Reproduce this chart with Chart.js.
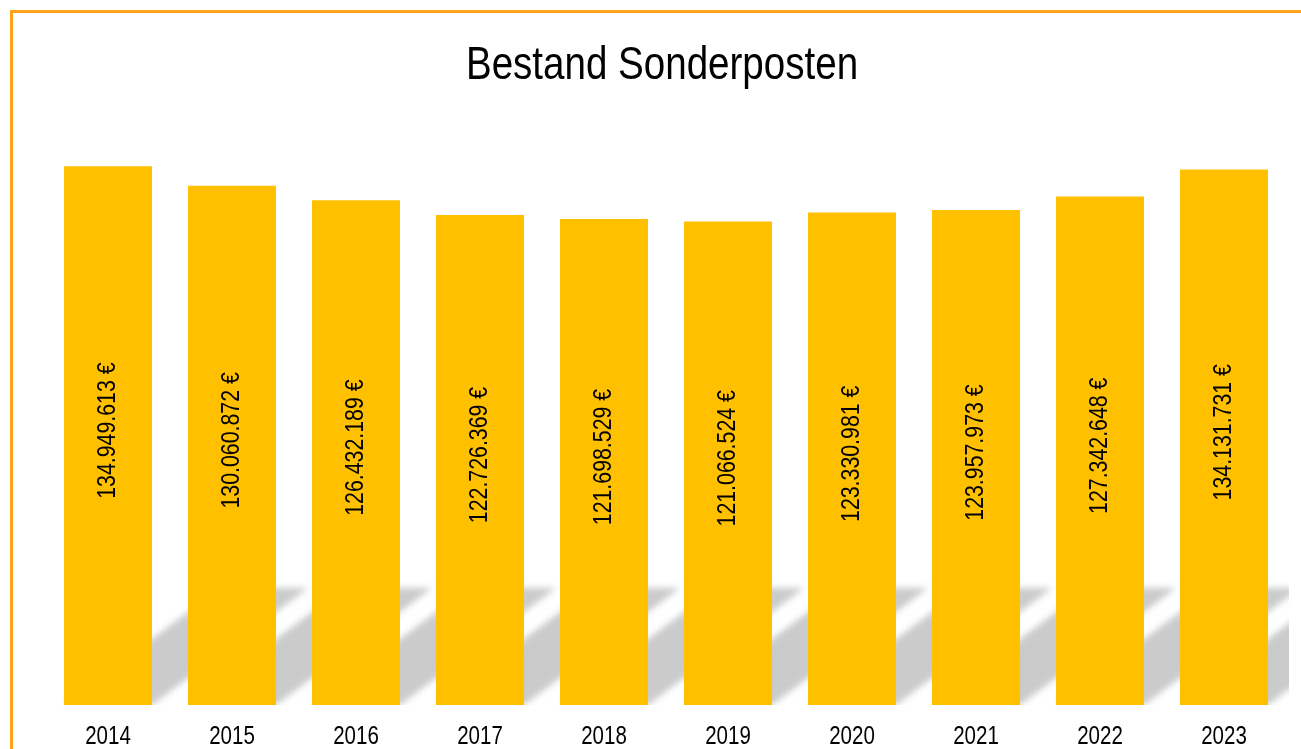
<!DOCTYPE html>
<html lang="de">
<head>
    <meta charset="UTF-8">
    <title>Bestand Sonderposten</title>
    <script src="https://cdn.jsdelivr.net/npm/chart.js"></script>
    <style>
        html, body { margin: 0; padding: 0; background: #fff; overflow: hidden; }
        #rahmen {
            position: absolute; left: 10px; top: 10px;
            width: 2000px; height: 2000px;
            border-top: 3px solid #FFA31A; border-left: 3px solid #FFA31A;
        }
        #diagramm { position: absolute; left: 0; top: 0; }
    </style>
</head>
<body>
    <div id="rahmen"></div>
    <canvas id="diagramm" width="1301" height="749"></canvas>

    <script>
        const titel = 'Bestand Sonderposten';
        const jahre = ['2014', '2015', '2016', '2017', '2018', '2019', '2020', '2021', '2022', '2023'];
        const bestand = [134949613, 130060872, 126432189, 122726369, 121698529, 121066524, 123330981, 123957973, 127342648, 134131731];

        // kein Arial Narrow vorhanden -> Liberation Sans schmal gestaucht
        const schrift = "'Liberation Sans', Arial, sans-serif";
        const stauchung = 0.82;

        function euro(wert) {
            return wert.toString().replace(/\B(?=(\d{3})+(?!\d))/g, '.') + ' €';
        }

        function schmalerText(ctx, text, x, y) {
            ctx.save();
            ctx.translate(x, y);
            ctx.scale(stauchung, 1);
            ctx.fillText(text, 0, 0);
            ctx.restore();
        }

        // Schräger Schatten hinter den Säulen
        const schatten = {
            id: 'schatten',
            beforeDatasetsDraw(chart) {
                const ctx = chart.ctx;
                const area = chart.chartArea;
                const hoehe = 117;
                const versatz = hoehe / 0.75;
                ctx.save();
                ctx.beginPath();
                ctx.rect(area.left, area.top, area.right - area.left + 3, area.bottom - area.top);
                ctx.clip();
                ctx.filter = 'blur(3px)';
                ctx.fillStyle = '#cbcbcb';
                chart.getDatasetMeta(0).data.forEach(bar => {
                    const links = bar.x - bar.width / 2;
                    const rechts = bar.x + bar.width / 2;
                    const unten = bar.base;
                    const oben = unten - hoehe;
                    ctx.beginPath();
                    ctx.moveTo(links, unten);
                    ctx.lineTo(rechts, unten);
                    ctx.lineTo(rechts + versatz, oben);
                    ctx.lineTo(links + versatz, oben);
                    ctx.closePath();
                    ctx.fill();
                });
                ctx.restore();
            }
        };

        // Titel, Werte in den Säulen und Jahreszahlen
        const beschriftung = {
            id: 'beschriftung',
            afterDatasetsDraw(chart) {
                const ctx = chart.ctx;
                const xAchse = chart.scales.x;
                ctx.save();
                ctx.fillStyle = '#000';

                ctx.font = '47px ' + schrift;
                ctx.textAlign = 'center';
                ctx.textBaseline = 'alphabetic';
                schmalerText(ctx, titel, 662, 79);

                ctx.font = '26px ' + schrift;
                ctx.textBaseline = 'middle';
                chart.getDatasetMeta(0).data.forEach((bar, i) => {
                    ctx.save();
                    ctx.translate(bar.x, (bar.y + bar.base) / 2 - 5);
                    ctx.rotate(-Math.PI / 2);
                    schmalerText(ctx, euro(bestand[i]), 0, 0);
                    ctx.restore();
                });

                ctx.font = '25px ' + schrift;
                ctx.textBaseline = 'alphabetic';
                jahre.forEach((jahr, i) => {
                    schmalerText(ctx, jahr, xAchse.getPixelForValue(i), chart.chartArea.bottom + 39);
                });
                ctx.restore();
            }
        };

        new Chart(document.getElementById('diagramm'), {
            type: 'bar',
            data: {
                labels: jahre,
                datasets: [{
                    data: bestand,
                    backgroundColor: '#FFC000',
                    borderWidth: 0,
                    categoryPercentage: 1,
                    barPercentage: 0.71
                }]
            },
            options: {
                responsive: false,
                animation: false,
                devicePixelRatio: 1,
                layout: { padding: { left: 46, right: 15, top: 146, bottom: 36 } },
                plugins: {
                    legend: { display: false },
                    tooltip: { enabled: false },
                    title: { display: false }
                },
                scales: {
                    x: {
                        grid: { display: false },
                        border: { display: false },
                        ticks: { display: false }
                    },
                    y: {
                        display: false,
                        min: 0,
                        max: 140000000
                    }
                }
            },
            plugins: [schatten, beschriftung]
        });
    </script>
</body>
</html>
